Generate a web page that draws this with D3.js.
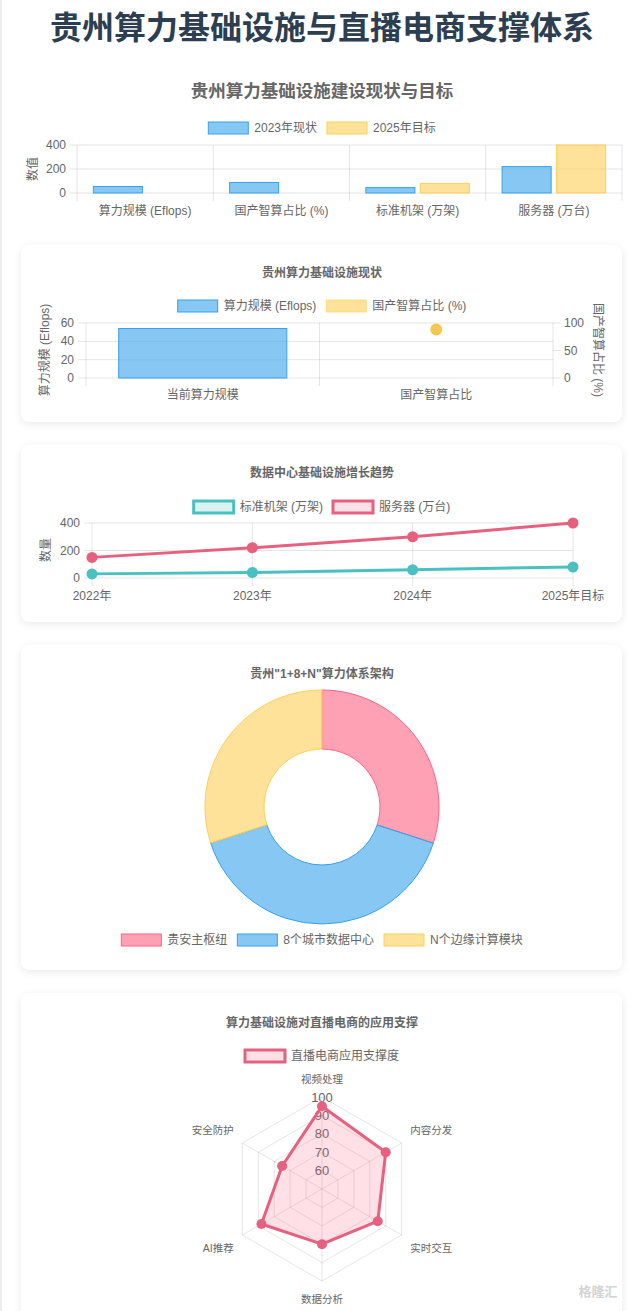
<!doctype html>
<html lang="zh">
<head>
<meta charset="utf-8">
<title>贵州算力基础设施与直播电商支撑体系</title>
<script src="https://cdn.jsdelivr.net/npm/d3@7"></script>
<style>
	body { margin: 0; background: #fff; font-family: "Helvetica Neue", Helvetica, Arial, "Noto Sans CJK SC", sans-serif; }
	#page { position: relative; width: 642px; height: 1311px; overflow: hidden; border-left: 2px solid #ececec; box-sizing: border-box; }
	.card { position: absolute; left: 19px; width: 601px; background: #fff; border-radius: 8px; box-shadow: 0 2px 8px rgba(0,0,0,0.09); }
	#chart { position: absolute; left: -2px; top: 0; }
</style>
</head>
<body>
<div id="page">
	<div class="card" style="top:245px;height:177px"></div>
	<div class="card" style="top:445px;height:177px"></div>
	<div class="card" style="top:645px;height:325px"></div>
	<div class="card" style="top:993px;height:340px"></div>
	<svg id="chart" width="642" height="1311"></svg>
</div>

<script>
// ---- data ----
const cats1 = ["算力规模 (Eflops)", "国产智算占比 (%)", "标准机架 (万架)", "服务器 (万台)"];
const status2023 = [54, 88, 45, 220];
const target2025 = [0, 0, 80, 400];
const ticks1 = [0, 200, 400];

const cats2 = ["当前算力规模", "国产智算占比"];
const computeScale = [54, null];
const domesticShare = [null, 88];
const ticks2Left = [0, 20, 40, 60];
const ticks2Right = [0, 50, 100];

const years = ["2022年", "2023年", "2024年", "2025年目标"];
const racks = [30, 40, 60, 80];
const servers = [150, 220, 300, 400];
const ticks3 = [0, 200, 400];

const hubLabels = ["贵安主枢纽", "8个城市数据中心", "N个边缘计算模块"];
const hubValues = [30, 40, 30];

const radarAxes = ["视频处理", "内容分发", "实时交互", "数据分析", "AI推荐", "安全防护"];
const radarValues = [95, 90, 85, 80, 88, 75];
const radarTicks = [60, 70, 80, 90, 100];

// ---- colours ----
const blue = "rgb(54,162,235)", blueFill = "rgba(54,162,235,0.6)";
const yellow = "rgb(255,206,86)", yellowFill = "rgba(255,206,86,0.6)";
const pink = "rgb(255,99,132)", pinkFill = "rgba(255,99,132,0.6)";
const teal = "rgb(75,192,192)";
const lineRed = "rgb(230,96,128)";
const grid = "rgba(0,0,0,0.1)";
const txt = "#666";

const svg = d3.select("#chart");

function text(x, y, s, opts = {}) {
	return svg.append("text")
		.attr("x", x).attr("y", y)
		.attr("dominant-baseline", "central")
		.attr("text-anchor", opts.anchor || "middle")
		.attr("font-size", opts.size || 12)
		.attr("font-weight", opts.weight || "normal")
		.attr("fill", opts.color || txt)
		.text(s);
}

function vtext(x, y, s, rot) {
	svg.append("text")
		.attr("transform", "translate(" + x + "," + y + ") rotate(" + rot + ")")
		.attr("dominant-baseline", "central")
		.attr("text-anchor", "middle")
		.attr("font-size", 12)
		.attr("fill", txt)
		.text(s);
}

// centred legend, items = [{label, fill, stroke, sw}]
function legend(cx, cy, items) {
	let g = svg.append("g");
	let x = 0;
	items.forEach(it => {
		g.append("rect").attr("x", x).attr("y", cy - 6).attr("width", 40).attr("height", 12)
			.attr("fill", it.fill).attr("stroke", it.stroke).attr("stroke-width", it.sw || 1);
		let t = g.append("text").attr("x", x + 46).attr("y", cy)
			.attr("dominant-baseline", "central").attr("font-size", 12).attr("fill", txt).text(it.label);
		x += 46 + t.node().getComputedTextLength() + 10;
	});
	g.attr("transform", "translate(" + (cx - (x - 10) / 2) + ",0)");
}

function hline(x1, x2, y) {
	svg.append("line").attr("x1", x1).attr("x2", x2).attr("y1", y).attr("y2", y).attr("stroke", grid);
}
function vline(x, y1, y2) {
	svg.append("line").attr("x1", x).attr("x2", x).attr("y1", y1).attr("y2", y2).attr("stroke", grid);
}

// ---- page title ----
text(322, 28, "贵州算力基础设施与直播电商支撑体系", { size: 32, weight: "bold", color: "#2c3e50" });

// ---- chart 1: grouped bars ----
(function () {
	text(322, 91, "贵州算力基础设施建设现状与目标", { size: 17.5, weight: "bold" });
	legend(322, 128, [
		{ label: "2023年现状", fill: blueFill, stroke: blue },
		{ label: "2025年目标", fill: yellowFill, stroke: yellow }
	]);
	let x = d3.scaleBand().domain(cats1).range([77, 622]);
	let y = d3.scaleLinear().domain([0, 400]).range([193, 145]);
	let bw = x.bandwidth();
	let xs = d3.scaleBand().domain([0, 1]).range([0.1 * bw, 0.9 * bw]);

	ticks1.forEach(t => { hline(69, 622, y(t)); text(66, y(t), t, { anchor: "end" }); });
	cats1.forEach(c => vline(x(c), 145, 201));
	vline(622, 145, 201);
	cats1.forEach(c => text(x(c) + bw / 2, 211, c));
	vtext(33, 169, "数值", -90);

	[[status2023, blueFill, blue], [target2025, yellowFill, yellow]].forEach(([vals, f, s], k) => {
		svg.append("g").selectAll("rect").data(vals).enter().append("rect")
			.attr("x", (d, i) => x(cats1[i]) + xs(k) + xs.bandwidth() * 0.05)
			.attr("width", xs.bandwidth() * 0.9)
			.attr("y", d => y(d))
			.attr("height", d => y(0) - y(d))
			.attr("fill", f).attr("stroke", d => d > 0 ? s : "none");
	});
})();

// ---- chart 2: bar + point, two axes ----
(function () {
	text(322, 273, "贵州算力基础设施现状", { size: 12, weight: "bold" });
	legend(322, 306, [
		{ label: "算力规模 (Eflops)", fill: blueFill, stroke: blue },
		{ label: "国产智算占比 (%)", fill: yellowFill, stroke: yellowFill }
	]);
	let x = d3.scaleBand().domain(cats2).range([86, 553]);
	let yL = d3.scaleLinear().domain([0, 60]).range([378, 323]);
	let yR = d3.scaleLinear().domain([0, 100]).range([378, 323]);
	let bw = x.bandwidth();

	ticks2Left.forEach(t => { hline(78, 553, yL(t)); text(74, yL(t), t, { anchor: "end" }); });
	ticks2Right.forEach(t => { hline(553, 561, yR(t)); text(564, yR(t), t, { anchor: "start" }); });
	cats2.forEach(c => vline(x(c), 323, 386));
	vline(553, 323, 386);
	cats2.forEach(c => text(x(c) + bw / 2, 395, c));
	vtext(45, 350, "算力规模 (Eflops)", -90);
	vtext(598, 350, "国产智算占比 (%)", 90);

	svg.append("g").selectAll("rect").data(computeScale.filter(d => d != null)).enter().append("rect")
		.attr("x", x(cats2[0]) + bw * 0.14)
		.attr("width", bw * 0.72)
		.attr("y", d => yL(d))
		.attr("height", d => yL(0) - yL(d))
		.attr("fill", blueFill).attr("stroke", blue);

	svg.append("g").selectAll("circle").data(domesticShare).enter()
		.filter(d => d != null).append("circle")
		.attr("cx", (d, i) => x(cats2[domesticShare.indexOf(d)]) + bw / 2)
		.attr("cy", d => yR(d))
		.attr("r", 6)
		.attr("fill", "rgb(247,200,80)");
})();

// ---- chart 3: lines ----
(function () {
	text(322, 473, "数据中心基础设施增长趋势", { size: 12, weight: "bold" });
	legend(322, 507, [
		{ label: "标准机架 (万架)", fill: "rgba(75,192,192,0.2)", stroke: teal, sw: 3 },
		{ label: "服务器 (万台)", fill: "rgba(255,99,132,0.2)", stroke: lineRed, sw: 3 }
	]);
	let x = d3.scalePoint().domain(years).range([92, 573]);
	let y = d3.scaleLinear().domain([0, 400]).range([578, 523]);

	ticks3.forEach(t => { hline(84, 573, y(t)); text(80, y(t), t, { anchor: "end" }); });
	years.forEach(c => { vline(x(c), 523, 586); text(x(c), 596, c); });
	vtext(46, 550, "数量", -90);

	let line = d3.line().x((d, i) => x(years[i])).y(d => y(d));
	[[racks, teal], [servers, lineRed]].forEach(([vals, c]) => {
		svg.append("path").attr("d", line(vals)).attr("fill", "none").attr("stroke", c).attr("stroke-width", 3);
		svg.append("g").selectAll("circle").data(vals).enter().append("circle")
			.attr("cx", (d, i) => x(years[i])).attr("cy", d => y(d)).attr("r", 5.5).attr("fill", c);
	});
})();

// ---- chart 4: doughnut ----
(function () {
	text(322, 674, "贵州\"1+8+N\"算力体系架构", { size: 12, weight: "bold" });
	let fills = [pinkFill, blueFill, yellowFill], strokes = [pink, blue, yellow];
	let pie = d3.pie().sort(null)(hubValues);
	let arc = d3.arc().innerRadius(58).outerRadius(117);
	svg.append("g").attr("transform", "translate(322,807)")
		.selectAll("path").data(pie).enter().append("path")
		.attr("d", arc)
		.attr("fill", (d, i) => fills[i])
		.attr("stroke", (d, i) => strokes[i]).attr("stroke-width", 1);
	legend(322, 940, hubLabels.map((l, i) => ({ label: l, fill: fills[i], stroke: strokes[i] })));
})();

// ---- chart 5: radar ----
(function () {
	text(322, 1023, "算力基础设施对直播电商的应用支撑", { size: 12, weight: "bold" });
	legend(322, 1056, [{ label: "直播电商应用支撑度", fill: "rgba(255,99,132,0.2)", stroke: lineRed, sw: 3 }]);
	let cx = 322, cy = 1189;
	let r = d3.scaleLinear().domain([50, 100]).range([0, 92]);
	let ang = i => i * Math.PI * 2 / radarAxes.length;
	let pt = (i, v) => [cx + r(v) * Math.sin(ang(i)), cy - r(v) * Math.cos(ang(i))];

	radarTicks.forEach(t => {
		svg.append("polygon")
			.attr("points", radarAxes.map((a, i) => pt(i, t).join(",")).join(" "))
			.attr("fill", "none").attr("stroke", grid);
	});
	radarAxes.forEach((a, i) => {
		let p = pt(i, 100);
		svg.append("line").attr("x1", cx).attr("y1", cy).attr("x2", p[0]).attr("y2", p[1]).attr("stroke", grid);
		let s = Math.sin(ang(i)), c = Math.cos(ang(i));
		let lx = cx + (r(100) + 10) * s;
		let ly = cy - (r(100) + 10) * c - 8 * Math.sign(Math.round(c * 100));
		let anchor = Math.abs(s) < 0.01 ? "middle" : (s > 0 ? "start" : "end");
		text(lx, ly, a, { size: 10.5, anchor: anchor });
	});
	radarTicks.forEach(t => text(cx, cy - r(t), t, { size: 13 }));

	svg.append("polygon")
		.attr("points", radarValues.map((v, i) => pt(i, v).join(",")).join(" "))
		.attr("fill", "rgba(255,99,132,0.2)").attr("stroke", lineRed).attr("stroke-width", 3)
		.attr("stroke-linejoin", "round");
	svg.append("g").selectAll("circle").data(radarValues).enter().append("circle")
		.attr("cx", (d, i) => pt(i, d)[0]).attr("cy", (d, i) => pt(i, d)[1])
		.attr("r", 5).attr("fill", lineRed);
})();

// watermark
text(598, 1291, "格隆汇", { size: 13, color: "#d4d4d4", weight: "bold" });
</script>
</body>
</html>
